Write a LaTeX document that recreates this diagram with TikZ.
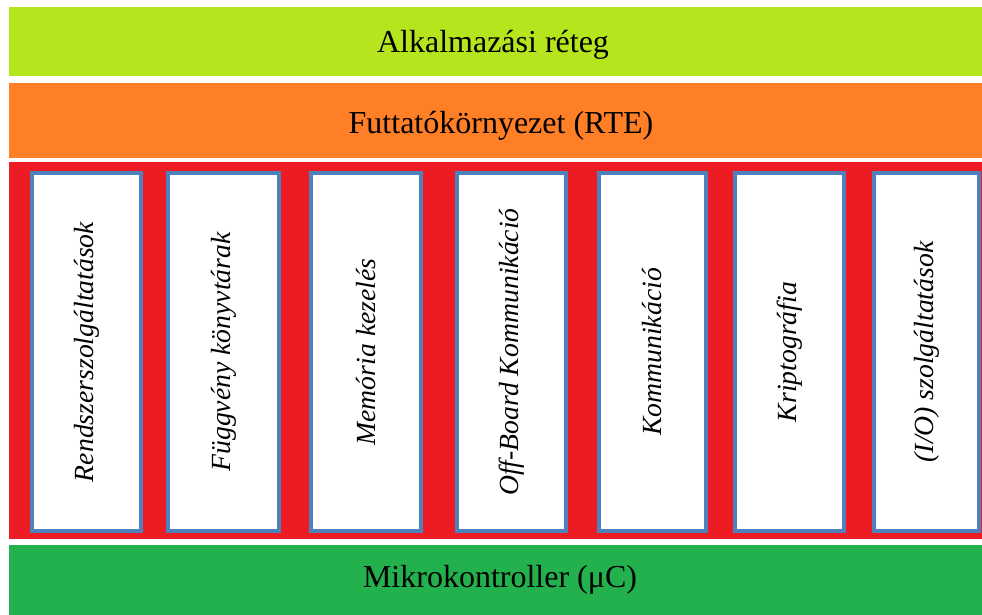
\documentclass[tikz,border=0pt]{standalone}
\usepackage{fontspec}
\setmainfont{Liberation Serif}
\definecolor{appcol}{HTML}{B5E61D}
\definecolor{rtecol}{HTML}{FF7F27}
\definecolor{bswcol}{HTML}{ED1C24}
\definecolor{mcucol}{HTML}{22B14C}
\definecolor{modborder}{HTML}{4F81BD}
\begin{document}
\begin{tikzpicture}[x=1pt,y=-1pt,
  bandtext/.style={font=\fontsize{32}{36}\selectfont,anchor=base,inner sep=0pt},
  module/.style={draw=modborder,line width=4pt,fill=white},
  modtext/.style={font=\fontsize{27.7}{30}\selectfont\itshape,rotate=90}]
\useasboundingbox (0,0) rectangle (982,614);
\fill[white] (0,0) rectangle (982,614);
% layer bands
\fill[appcol] (9,7) rectangle (990,76);
\node[bandtext] (app) at (493,52) {Alkalmazási réteg};
\fill[rtecol] (9,83) rectangle (990,158);
\node[bandtext] (rte) at (501,133) {Futtatókörnyezet (RTE)};
\fill[bswcol] (9,162) rectangle (990,539);
\fill[mcucol] (9,545) rectangle (990,620);
\node[bandtext] (mcu) at (500,587) {Mikrokontroller (μC)};
% basic software modules
\foreach \l/\r/\txt [count=\i] in {
  30/143/{Rendszerszolgáltatások},
  166/281/{Függvény könyvtárak},
  309/423/{Memória kezelés},
  455/568/{Off-Board Kommunikáció},
  597/708/{Kommunikáció},
  733/846/{Kriptográfia},
  872/981/{(I/O) szolgáltatások}}{
  \draw[module] (\l+2,173) rectangle (\r-2,531);
  \node[modtext] (m\i) at ({(\l+\r)/2},352) {\txt};
}
\end{tikzpicture}
\end{document}
